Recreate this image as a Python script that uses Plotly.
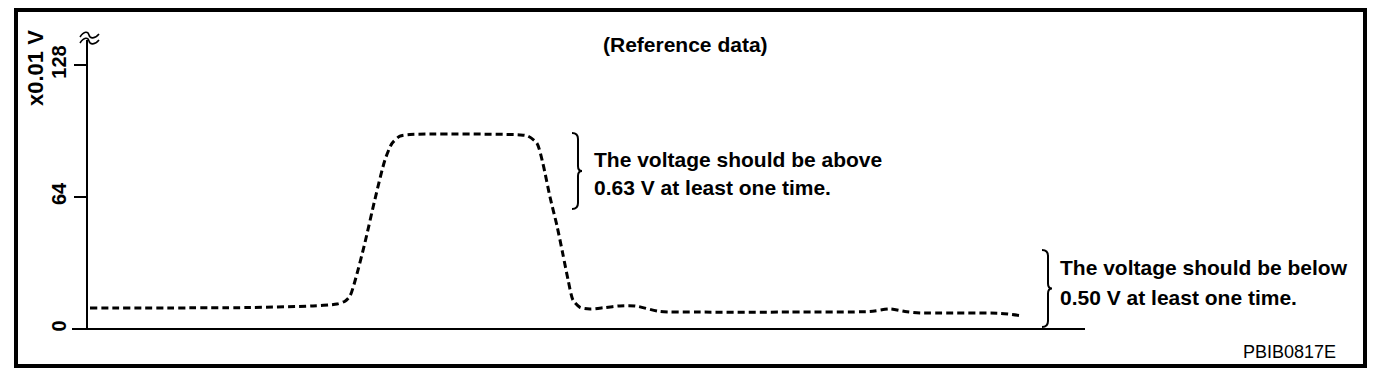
import plotly.graph_objects as go

# ---- data (time in arbitrary units, voltage in x0.01 V) ----
time = [0.2, 16.2, 22.5, 24.9, 25.7, 26.2, 26.8, 27.7, 28.7, 29.7, 30.4, 31.2, 32.2,
        43.2, 44.0, 44.9, 45.5, 46.2, 46.9, 47.5, 48.0, 48.5, 49.2, 50.2, 51.7, 53.2,
        54.7, 57.2, 61.2, 70.2, 78.2, 80.2, 81.7, 83.2, 91.2, 93.5]
voltage = [10.2, 10.4, 11.2, 12.1, 13.5, 16, 25, 42, 63, 82, 90, 93.5, 94.3,
           94.1, 93.5, 90, 80, 64, 50, 36, 24, 14, 10.5, 9.7, 10.4, 11.2,
           11.2, 8.5, 8.2, 8.2, 8.5, 9.7, 8.5, 7.8, 7.6, 6.3]
ytick_vals = [0, 64, 128]
ytick_text = ["0", "64", "128"]
y_unit = "x0.01 V"
title_text = "(Reference data)"
note_above = ["The voltage should be above", "0.63 V at least one time."]
note_below = ["The voltage should be below", "0.50 V at least one time."]
code_text = "PBIB0817E"

# ---- layout geometry (screen pixels; page body adds an 8px offset) ----
OFF = 8
W, H = 1392 - OFF, 376 - OFF
L, R, T, B = 88, 1085, 40, 329
X_RANGE = [0, 99.7]
Y_RANGE = [0, 140.1]


def px(xp):
    return (xp - L) / (R - L)


def py(yp):
    return (B - yp) / (B - T)


def path(points_cmds):
    out = []
    for cmd, pts in points_cmds:
        s = cmd
        for (a, b) in pts:
            s += f" {px(a):.5f},{py(b):.5f}"
        out.append(s)
    return " ".join(out)


def brace(x0, y0, y1, w=6, tip=4):
    xm = x0 + w
    ym = (y0 + y1) / 2
    return path([
        ("M", [(x0, y0)]),
        ("Q", [(xm, y0), (xm, y0 + 6)]),
        ("L", [(xm, ym - 5)]),
        ("Q", [(xm, ym), (xm + tip, ym)]),
        ("Q", [(xm, ym), (xm, ym + 5)]),
        ("L", [(xm, y1 - 6)]),
        ("Q", [(xm, y1), (x0, y1)]),
    ])


fig = go.Figure()
fig.add_trace(go.Scatter(
    x=time, y=voltage, mode="lines",
    line=dict(color="black", width=3, dash="7px,4px", shape="spline", smoothing=0.7),
    hoverinfo="skip", showlegend=False,
))

FAM = "Liberation Sans, Arial, sans-serif"
BOLD = dict(family=FAM, size=21, color="black", weight="bold")

shapes = [
    # outer frame
    dict(type="rect", xref="paper", yref="paper", x0=px(16), x1=px(1365), y0=py(366), y1=py(10),
         line=dict(color="black", width=4)),
    # x-axis line, extending to the left of the y-axis
    dict(type="line", xref="paper", yref="paper", x0=px(72), x1=px(R), y0=0, y1=0,
         line=dict(color="black", width=2)),
    # axis-break tildes
    dict(type="path", xref="paper", yref="paper",
         path=path([("M", [(80, 37)]), ("C", [(84, 31), (88, 31), (89, 35)]),
                    ("C", [(90, 39), (95, 39), (99, 34)])]),
         line=dict(color="black", width=1.6)),
    dict(type="path", xref="paper", yref="paper",
         path=path([("M", [(80, 43)]), ("C", [(84, 37), (88, 37), (89, 41)]),
                    ("C", [(90, 45), (95, 45), (99, 40)])]),
         line=dict(color="black", width=1.6)),
    # braces
    dict(type="path", xref="paper", yref="paper", path=brace(572, 133, 209),
         line=dict(color="black", width=2)),
    dict(type="path", xref="paper", yref="paper", path=brace(1042, 250, 327),
         line=dict(color="black", width=2)),
]

annotations = [
    dict(text=title_text, x=px(685), y=py(44), xref="paper", yref="paper",
         xanchor="center", yanchor="middle", showarrow=False, font=BOLD),
    dict(text=note_above[0], x=px(592), y=py(159), xref="paper", yref="paper",
         xanchor="left", yanchor="middle", showarrow=False, font=BOLD),
    dict(text=note_above[1], x=px(592), y=py(187), xref="paper", yref="paper",
         xanchor="left", yanchor="middle", showarrow=False, font=BOLD),
    dict(text=note_below[0], x=px(1058), y=py(267), xref="paper", yref="paper",
         xanchor="left", yanchor="middle", showarrow=False, font=BOLD),
    dict(text=note_below[1], x=px(1058), y=py(297), xref="paper", yref="paper",
         xanchor="left", yanchor="middle", showarrow=False, font=BOLD),
    dict(text=y_unit, x=px(35), y=py(68), xref="paper", yref="paper", textangle=-90,
         xanchor="center", yanchor="middle", showarrow=False,
         font=dict(family=FAM, size=22, color="black", weight="bold")),
    dict(text=code_text, x=px(1338), y=py(352), xref="paper", yref="paper",
         xanchor="right", yanchor="middle", showarrow=False,
         font=dict(family=FAM, size=18, color="black")),
]

fig.update_layout(
    width=W, height=H,
    margin=dict(l=L - OFF, r=W - (R - OFF), t=T - OFF, b=H - (B - OFF), pad=0),
    paper_bgcolor="white", plot_bgcolor="white",
    shapes=shapes, annotations=annotations,
    xaxis=dict(range=X_RANGE, showgrid=False, zeroline=False, showticklabels=False,
               showline=False, ticks=""),
    yaxis=dict(range=Y_RANGE, showgrid=False, zeroline=False, showline=True,
               linecolor="black", linewidth=2, ticks="outside", ticklen=12,
               tickwidth=2, tickcolor="black", tickvals=ytick_vals, ticktext=ytick_text,
               tickangle=-90, ticklabelstandoff=0,
               tickfont=dict(family=FAM, size=20, color="black", weight="bold")),
)

fig.write_html("out.html")
